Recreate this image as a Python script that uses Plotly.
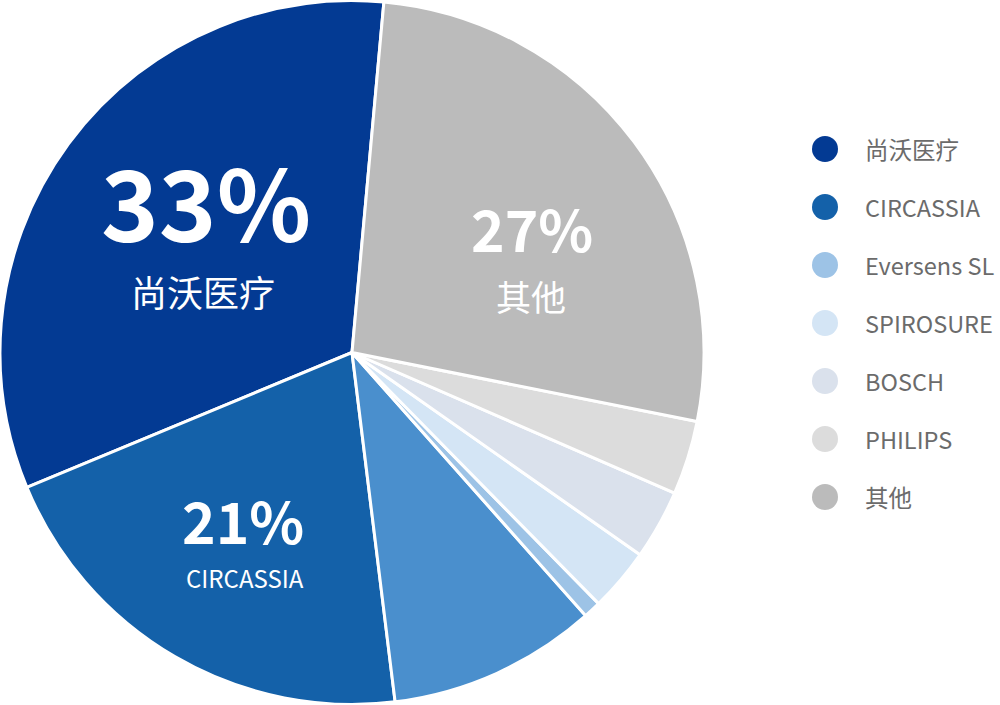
import plotly.graph_objects as go

# slice data, counterclockwise from the top
labels = ["尚沃医疗", "CIRCASSIA", "未列出", "Eversens SL", "SPIROSURE", "BOSCH", "PHILIPS", "其他"]
values = [32.7, 20.7, 9.6, 0.8, 2.9, 3.2, 3.4, 26.7]
colors = ["#033a93", "#1461a9", "#4a8fcd", "#9dc3e6", "#d4e5f5", "#dae1ec", "#dcdcdc", "#bbbbbb"]

# legend shows every slice except the unnamed one
legend_labels = ["尚沃医疗", "CIRCASSIA", "Eversens SL", "SPIROSURE", "BOSCH", "PHILIPS", "其他"]
legend_colors = ["#033a93", "#1461a9", "#9dc3e6", "#d4e5f5", "#dae1ec", "#dcdcdc", "#bbbbbb"]

# big labels written on the pie
big_pct = ["33%", "27%", "21%"]
big_name = ["尚沃医疗", "其他", "CIRCASSIA"]

FONT = "Noto Sans CJK SC"
W, H = 1000, 705

# plotly puts the first ccw slice on the clockwise side of `rotation`,
# so back off by its own span to have it end just right of 12 o'clock
start_angle = 5.2
rotation = start_angle - 360 * values[0] / sum(values)

fig = go.Figure()

fig.add_trace(
    go.Pie(
        labels=labels,
        values=values,
        sort=False,
        direction="counterclockwise",
        rotation=rotation,
        marker=dict(colors=colors, line=dict(color="white", width=3)),
        textinfo="none",
        hoverinfo="label+percent",
        showlegend=False,
        domain=dict(x=[0, 0.704], y=[0, 1]),
    )
)

# label placement (pixel centres) and sizes
pct_pos = [(206, 199), (532, 227), (243, 519)]
pct_size = [98, 57, 57]
name_pos = [(203, 291), (531, 296), (245, 577)]
name_size = [36, 35, 24]

annotations = []
for i in range(3):
    annotations.append(dict(
        x=pct_pos[i][0] / W, y=1 - pct_pos[i][1] / H, xref="paper", yref="paper",
        text=f"<b>{big_pct[i]}</b>", showarrow=False, xanchor="center", yanchor="middle",
        font=dict(family=FONT, size=pct_size[i], color="white"),
    ))
    annotations.append(dict(
        x=name_pos[i][0] / W, y=1 - name_pos[i][1] / H, xref="paper", yref="paper",
        text=big_name[i], showarrow=False, xanchor="center", yanchor="middle",
        font=dict(family=FONT, size=name_size[i], color="white"),
    ))

# hand-built legend
shapes = []
for i, (lab, col) in enumerate(zip(legend_labels, legend_colors)):
    cy = 149 + i * 58
    shapes.append(dict(
        type="circle", xref="paper", yref="paper",
        x0=812 / W, x1=838 / W, y0=1 - (cy + 13) / H, y1=1 - (cy - 13) / H,
        fillcolor=col, line=dict(width=0),
    ))
    annotations.append(dict(
        x=863 / W, y=1 - cy / H, xref="paper", yref="paper",
        text=lab, showarrow=False, xanchor="left", yanchor="middle",
        font=dict(family=FONT, size=23.5, color="#6b6b6b"),
    ))

fig.update_layout(
    width=W,
    height=H,
    margin=dict(l=0, r=0, t=0, b=0),
    paper_bgcolor="white",
    plot_bgcolor="white",
    annotations=annotations,
    shapes=shapes,
)

# drop the default 8px body margin so the figure sits at the window corner
fig.write_html(
    "out.html",
    config={"displayModeBar": False},
    post_script="document.body.style.margin = '0';",
)
